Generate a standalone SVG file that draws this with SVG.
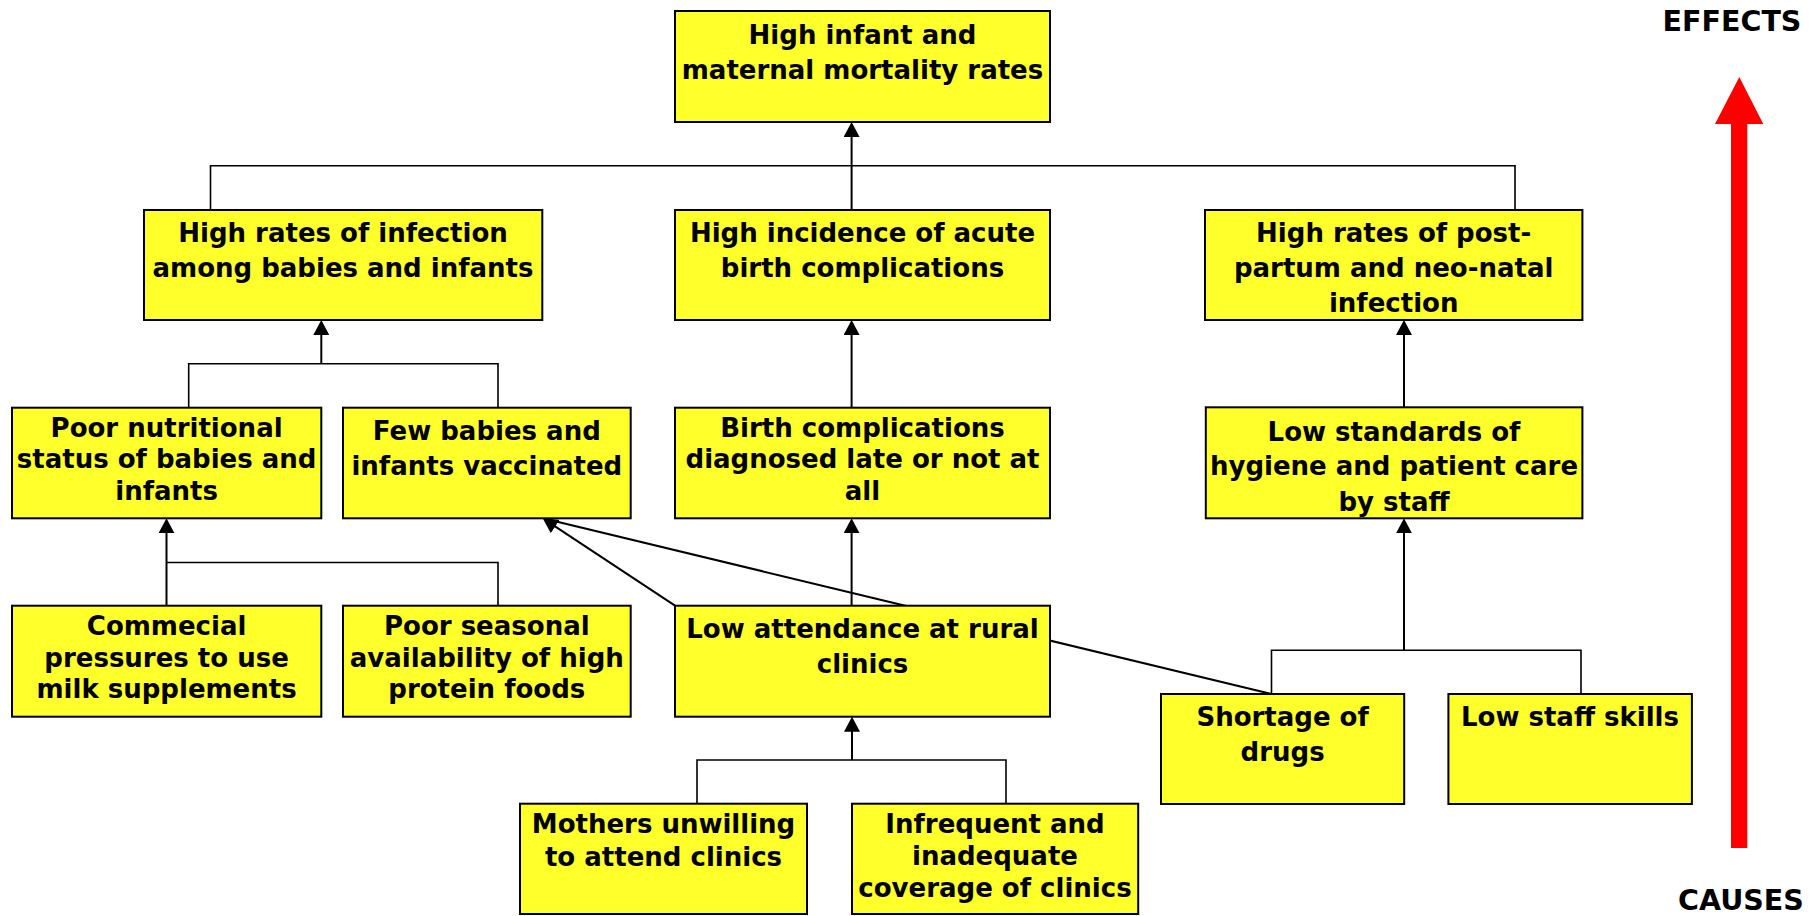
<svg xmlns="http://www.w3.org/2000/svg" width="1815" height="916" viewBox="0 0 1815 916">
<style>
.box{fill:#FFFF2B;stroke:#000;stroke-width:2}
.t{font-family:"DejaVu Sans","Liberation Sans",sans-serif;font-weight:bold;font-size:26px;fill:#000;text-anchor:middle}
.lbl{font-family:"DejaVu Sans","Liberation Sans",sans-serif;font-weight:bold;font-size:28.5px;fill:#000;text-anchor:middle}
.c{fill:none;stroke:#000;stroke-width:2}
.j{fill:none;stroke:#000;stroke-width:1.6}
</style>
<defs>
<marker id="ah" viewBox="0 0 15 16" refX="12" refY="8" markerWidth="15" markerHeight="16" markerUnits="userSpaceOnUse" orient="auto">
<path d="M0,0 L15,8 L0,16 z" fill="#000"/>
</marker>
</defs>
<rect width="1815" height="916" fill="#fff"/>
<g id="connectors">
<path class="j" d="M210.5,210 V165.7 H1515 V210"/>
<path class="c" d="M851.6,210 V125" marker-end="url(#ah)"/>
<path class="c" d="M321.3,363.7 V323" marker-end="url(#ah)"/>
<path class="j" d="M188.7,407.7 V363.7 H498 V407.7"/>
<path class="c" d="M851.6,407.7 V323" marker-end="url(#ah)"/>
<path class="c" d="M1404,407.3 V323" marker-end="url(#ah)"/>
<path class="c" d="M166.5,605.7 V521.3" marker-end="url(#ah)"/>
<path class="j" d="M166.5,562.5 H498 V605.7"/>
<path class="c" d="M851.6,605.7 V521.3" marker-end="url(#ah)"/>
<path class="c" d="M675,605.7 L545.2,519.95" marker-end="url(#ah)"/>
<path class="c" d="M1271.5,694 L551,520.3"/>
<path class="c" d="M1404,650.3 V521.3" marker-end="url(#ah)"/>
<path class="j" d="M1271.5,694 V650.3 H1581 V694"/>
<path class="c" d="M852,760 V719.7" marker-end="url(#ah)"/>
<path class="j" d="M697,803.7 V760 H1006 V803.7"/>
</g>
<g id="n1"><rect class="box" x="675" y="11" width="375" height="111"/>
<text class="t" x="862.5" y="44">High infant and</text><text class="t" x="862.5" y="79">maternal mortality rates</text></g>
<g id="n2"><rect class="box" x="144" y="210" width="398.3" height="110"/>
<text class="t" x="343" y="242">High rates of infection</text><text class="t" x="343" y="276.7">among babies and infants</text></g>
<g id="n3"><rect class="box" x="675" y="210" width="375" height="110"/>
<text class="t" x="862.5" y="242">High incidence of acute</text><text class="t" x="862.5" y="276.7">birth complications</text></g>
<g id="n4"><rect class="box" x="1205" y="210" width="377.4" height="110"/>
<text class="t" x="1393.7" y="242">High rates of post-</text><text class="t" x="1393.7" y="276.7">partum and neo-natal</text><text class="t" x="1393.7" y="311.5">infection</text></g>
<g id="n5"><rect class="box" x="12" y="407.7" width="309.3" height="110.6"/>
<text class="t" x="166.6" y="437">Poor nutritional</text><text class="t" x="166.6" y="468">status of babies and</text><text class="t" x="166.6" y="500">infants</text></g>
<g id="n6"><rect class="box" x="343" y="407.7" width="287.7" height="110.6"/>
<text class="t" x="486.8" y="440">Few babies and</text><text class="t" x="486.8" y="474.5">infants vaccinated</text></g>
<g id="n7"><rect class="box" x="675" y="407.7" width="375" height="110.6"/>
<text class="t" x="862.5" y="437">Birth complications</text><text class="t" x="862.5" y="468">diagnosed late or not at</text><text class="t" x="862.5" y="500">all</text></g>
<g id="n8"><rect class="box" x="1205.8" y="407.3" width="376.6" height="111"/>
<text class="t" x="1394" y="440.7">Low standards of</text><text class="t" x="1394" y="475">hygiene and patient care</text><text class="t" x="1394" y="510.7">by staff</text></g>
<g id="n9"><rect class="box" x="12" y="605.7" width="309.3" height="111"/>
<text class="t" x="166.6" y="635">Commecial</text><text class="t" x="166.6" y="667">pressures to use</text><text class="t" x="166.6" y="698">milk supplements</text></g>
<g id="n10"><rect class="box" x="343" y="605.7" width="287.7" height="111"/>
<text class="t" x="486.8" y="635">Poor seasonal</text><text class="t" x="486.8" y="667">availability of high</text><text class="t" x="486.8" y="698">protein foods</text></g>
<g id="n11"><rect class="box" x="675" y="605.7" width="375" height="111"/>
<text class="t" x="862.5" y="638.3">Low attendance at rural</text><text class="t" x="862.5" y="673">clinics</text></g>
<g id="n12"><rect class="box" x="1161" y="694" width="243.2" height="110"/>
<text class="t" x="1282.6" y="726">Shortage of</text><text class="t" x="1282.6" y="760.7">drugs</text></g>
<g id="n13"><rect class="box" x="1448.4" y="694" width="243.5" height="110"/>
<text class="t" x="1570" y="726">Low staff skills</text></g>
<g id="n14"><rect class="box" x="520" y="803.7" width="287" height="110.3"/>
<text class="t" x="663.5" y="833.3">Mothers unwilling</text><text class="t" x="663.5" y="865.7">to attend clinics</text></g>
<g id="n15"><rect class="box" x="852" y="803.7" width="286.2" height="110.3"/>
<text class="t" x="995" y="833.3">Infrequent and</text><text class="t" x="995" y="865">inadequate</text><text class="t" x="995" y="896.7">coverage of clinics</text></g>
<g id="legend">
<text class="lbl" x="1732" y="30.7">EFFECTS</text>
<text class="lbl" x="1741" y="910">CAUSES</text>
<polygon points="1731,848 1731,124 1715,124 1739.3,77 1763.3,124 1747.3,124 1747.3,848" fill="#FF0000"/>
</g>
</svg>
